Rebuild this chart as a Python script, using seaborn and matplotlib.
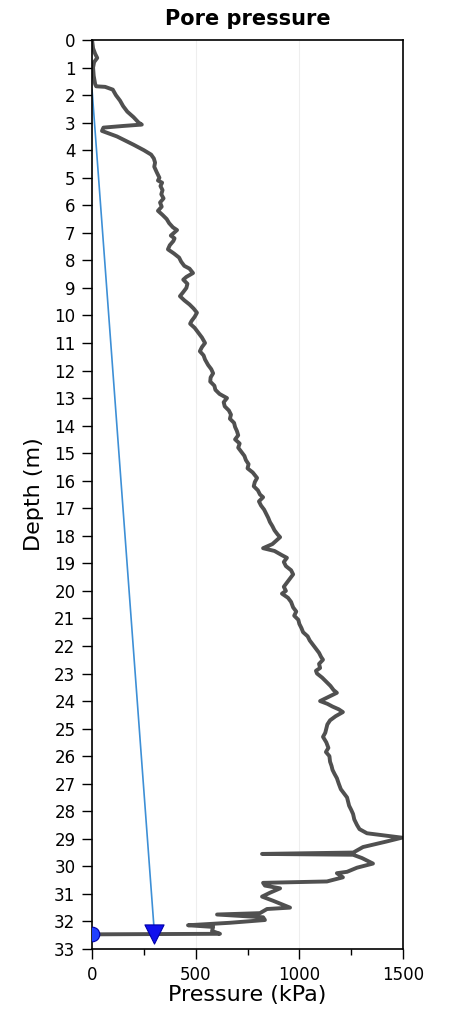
import matplotlib
matplotlib.use("Agg")
import matplotlib.pyplot as plt
import seaborn as sns
import pandas as pd
from matplotlib.ticker import MultipleLocator

depth = [0.0, 0.3, 0.5, 0.65, 0.8, 1.0, 1.3, 1.6, 1.68, 1.7, 1.8, 2.0, 2.2, 2.4, 2.6, 2.8,
         3.0, 3.07, 3.12, 3.18, 3.3, 3.5, 3.8, 4.0,
         4.16, 4.3, 4.45, 4.6, 4.8, 5.0, 5.1, 5.18, 5.3, 5.45, 5.6, 5.75, 5.9, 6.05, 6.2,
         6.35, 6.5, 6.65, 6.8, 6.9, 7.0, 7.1, 7.2, 7.3, 7.45, 7.6, 7.75, 7.9, 8.05, 8.2,
         8.3, 8.46, 8.6, 8.7, 8.85, 9.0, 9.15, 9.3, 9.45, 9.6, 9.75, 9.9, 10.05, 10.2,
         10.3, 10.45, 10.6, 10.8, 11.0, 11.15, 11.3, 11.45, 11.6, 11.8, 11.95, 12.1,
         12.25, 12.4, 12.55, 12.7, 12.85, 13.0, 13.15, 13.3, 13.45, 13.6, 13.75, 13.9,
         14.05, 14.2, 14.35, 14.5, 14.65, 14.8, 14.95, 15.1, 15.25, 15.4, 15.55, 15.7,
         15.9, 16.05, 16.2, 16.35, 16.5, 16.6, 16.75, 16.9, 17.05, 17.2, 17.35, 17.5,
         17.65, 17.8, 17.95, 18.05, 18.2, 18.3, 18.45, 18.55, 18.7, 18.8, 18.95, 19.1,
         19.25, 19.4, 19.55, 19.7, 19.85, 20.0, 20.1, 20.25, 20.4, 20.6, 20.75, 20.9,
         21.05, 21.2, 21.35, 21.5, 21.65, 21.8, 21.95, 22.1, 22.25, 22.4, 22.5, 22.65,
         22.8, 22.9, 23.0, 23.15, 23.3, 23.45, 23.6, 23.7, 23.85, 24.0, 24.1, 24.2, 24.3,
         24.4, 24.55, 24.7, 24.85, 25.0, 25.15, 25.3, 25.5, 25.7, 25.85, 26.0, 26.2,
         26.35, 26.5, 26.65, 26.8, 27.0, 27.2, 27.35, 27.5, 27.65, 27.8, 27.95, 28.1,
         28.3, 28.5, 28.65, 28.8, 28.96, 29.1,
         29.3, 29.5, 29.55, 29.58, 29.7, 29.9, 30.05, 30.2, 30.25, 30.4, 30.55, 30.6, 30.7,
         30.8, 30.96, 31.1, 31.25, 31.5, 31.55, 31.7, 31.75, 31.85, 31.95, 32.05, 32.14,
         32.2, 32.35, 32.45, 32.47]
pressure = [0, 5, 15, 25, 10, 5, 8, 15, 20, 63, 100, 115, 135, 150, 170, 200,
            225, 240, 150, 55, 48, 120, 200, 250,
            285, 298, 304, 300, 312, 325, 318, 338, 330, 340, 334, 345, 328, 336, 318,
            340, 360, 372, 390, 410, 395, 380, 398, 392, 375, 366, 395, 420, 430, 445,
            470, 487, 455, 440, 460, 455, 440, 424, 445, 470, 490, 506, 495, 480,
            473, 495, 510, 530, 545, 530, 520, 538, 545, 560, 575, 584,
            572, 570, 590, 595, 615, 651, 635, 640, 660, 670, 665, 685,
            690, 699, 705, 690, 712, 705, 720, 735, 742, 755, 750, 775,
            796, 785, 780, 800, 810, 825, 805, 815, 830, 840, 850, 858,
            870, 880, 895, 907, 885, 870, 825, 880, 915, 940, 925, 935,
            960, 970, 955, 940, 925, 935, 916, 945, 960, 970, 985, 975,
            995, 1000, 1010, 1018, 1040, 1050, 1065, 1080, 1095, 1105, 1114, 1095,
            1100, 1080, 1085, 1110, 1130, 1150, 1165, 1181, 1140, 1100, 1135, 1160, 1190,
            1210, 1175, 1148, 1135, 1130, 1125, 1114, 1130, 1140, 1128, 1145, 1148,
            1155, 1160, 1170, 1181, 1190, 1200, 1215, 1230, 1235, 1240, 1250, 1259,
            1265, 1278, 1290, 1326, 1495, 1420,
            1307, 1260, 820, 1259, 1302, 1355, 1278, 1230, 1181, 1210, 1133, 825, 834,
            907, 858, 820, 873, 955, 844, 810, 603, 825, 834, 665, 463,
            584, 579, 617, 0]

# Hydrostatic line
hydro_depth = [1.8, 32.45]
hydro_pressure = [0, 301]

# Markers at base
tri_depth = [32.45]
tri_pressure = [301]
circ_depth = [32.45]
circ_pressure = [0]

sns.set_theme(style="white")
plt.rcParams['font.family'] = ['DejaVu Sans']
plt.rcParams['text.color'] = 'black'
plt.rcParams['axes.labelcolor'] = 'black'

fig = plt.figure(figsize=(4.49, 10.16), dpi=100)
ax = fig.add_axes([0.205, 0.066, 0.6926, 0.8946])

df = pd.DataFrame({"Pressure": pressure, "Depth": depth})
sns.lineplot(data=df, x="Pressure", y="Depth", sort=False, estimator=None,
             color="#505050", linewidth=2.8, ax=ax)
hdf = pd.DataFrame({"Pressure": hydro_pressure, "Depth": hydro_depth})
sns.lineplot(data=hdf, x="Pressure", y="Depth", sort=False, estimator=None,
             color="#3d8fd6", linewidth=1.2, ax=ax)
sns.scatterplot(x=tri_pressure, y=tri_depth, marker="v", s=190, color="#1010ee",
                edgecolor="#0000aa", linewidth=0.8, ax=ax, zorder=5)
sns.scatterplot(x=circ_pressure, y=circ_depth, marker="o", s=110, color="#2040ff",
                edgecolor="#0000aa", linewidth=0.8, ax=ax, zorder=5)

ax.set_xlim(0, 1500)
ax.set_ylim(33, 0)
ax.xaxis.set_major_locator(MultipleLocator(500))
ax.xaxis.set_minor_locator(MultipleLocator(250))
ax.yaxis.set_major_locator(MultipleLocator(1))
ax.grid(axis="x", which="major", color="#eeeeee", linewidth=0.8)

for s in ax.spines.values():
    s.set_color("black")
    s.set_linewidth(1.2)
ax.tick_params(axis="both", which="major", direction="out", length=7, width=1,
               color="black", labelsize=12, labelcolor="black", bottom=True, left=True,
               pad=5)
ax.tick_params(axis="x", which="minor", direction="out", length=4, width=1,
               color="black", bottom=True)

ax.set_xlabel("Pressure (kPa)", fontsize=16, labelpad=1)
ax.set_ylabel("Depth (m)", fontsize=16, labelpad=7)
ax.set_title("Pore pressure", fontsize=15, fontweight="bold", pad=11, color="black")

fig.savefig("out.png", dpi=100)
